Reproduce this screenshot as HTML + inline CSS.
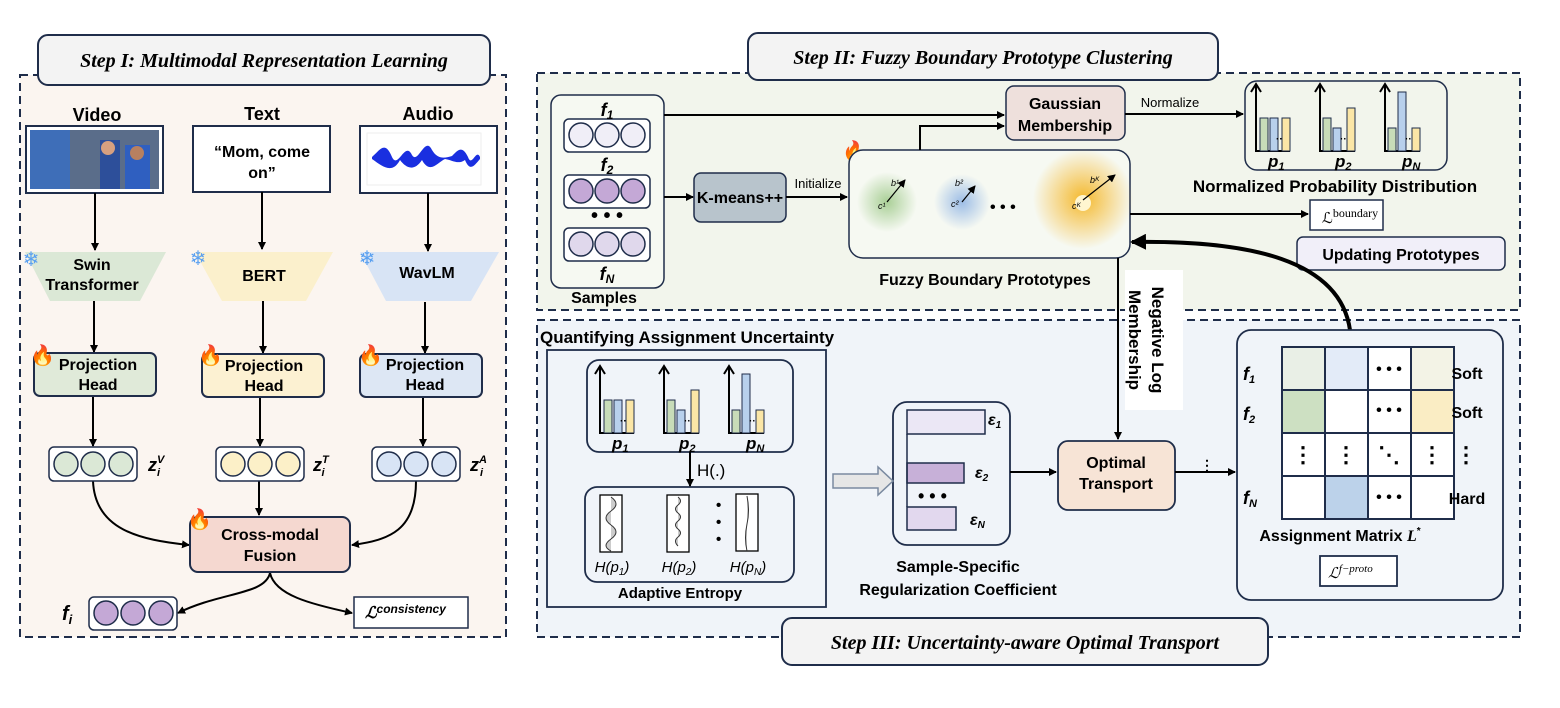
<!DOCTYPE html><html><head><meta charset="utf-8"><style>body{margin:0;background:#fff}svg{display:block}text{font-family:"Liberation Sans",sans-serif}.s{font-family:"Liberation Serif",serif}</style></head><body>
<svg width="1560" height="708" viewBox="0 0 1560 708" xmlns="http://www.w3.org/2000/svg">
<defs>
<marker id="a" markerWidth="8" markerHeight="8" refX="7" refY="4" orient="auto" markerUnits="userSpaceOnUse"><path d="M0,0L8,4L0,8z" fill="#000"/></marker>
<marker id="b" markerWidth="16" markerHeight="16" refX="14" refY="8" orient="auto" markerUnits="userSpaceOnUse"><path d="M0,0L16,8L0,16z" fill="#000"/></marker>
<radialGradient id="gG"><stop offset="0" stop-color="#a9cf96"/><stop offset="1" stop-color="#a9cf96" stop-opacity="0"/></radialGradient>
<radialGradient id="gB"><stop offset="0" stop-color="#9dbde6"/><stop offset="1" stop-color="#9dbde6" stop-opacity="0"/></radialGradient>
<radialGradient id="gY"><stop offset="0" stop-color="#f5b92e"/><stop offset="1" stop-color="#f5b92e" stop-opacity="0"/></radialGradient>
</defs>
<g stroke="#1f2d4a" stroke-width="2">
<rect x="20" y="75" width="486" height="562" fill="#fbf5f0" stroke-dasharray="8,5"/>
<rect x="537" y="73" width="983" height="237" fill="#f2f5ec" stroke-dasharray="8,5"/>
<rect x="537" y="320" width="983" height="317" fill="#f0f4f9" stroke-dasharray="8,5"/>
<rect x="38" y="35" width="452" height="50" rx="10" fill="#f3f3f3"/>
<rect x="748" y="33" width="470" height="47" rx="10" fill="#f3f3f3"/>
<rect x="782" y="618" width="486" height="47" rx="10" fill="#f3f3f3"/>
</g>
<g font-family="Liberation Serif" font-style="italic" font-weight="bold" font-size="20" text-anchor="middle">
<text x="264" y="67" class="s">Step I: Multimodal Representation Learning</text>
<text x="983" y="64" class="s">Step II: Fuzzy Boundary Prototype Clustering</text>
<text x="1025" y="649" class="s">Step III: Uncertainty-aware Optimal Transport</text>
</g>
<!-- Step I -->
<g font-weight="bold" font-size="18" text-anchor="middle"><text x="97" y="121">Video</text><text x="262" y="120">Text</text><text x="428" y="120">Audio</text></g>
<rect x="26" y="126" width="137" height="67" fill="#fff" stroke="#1f2d4a" stroke-width="2"/>
<rect x="30" y="130" width="129" height="59" fill="#5a6d8a"/><rect x="30" y="130" width="40" height="59" fill="#3e6eb8"/><rect x="100" y="140" width="20" height="49" fill="#2d4f9a"/><rect x="125" y="145" width="25" height="44" fill="#2f5fc0"/><circle cx="108" cy="148" r="7" fill="#d7a080"/><circle cx="137" cy="153" r="7" fill="#b88060"/>
<rect x="193" y="126" width="137" height="66" fill="#fff" stroke="#1f2d4a" stroke-width="2"/>
<text x="262" y="157" font-size="16" text-anchor="middle" font-weight="bold">“Mom, come</text><text x="262" y="178" font-size="16" text-anchor="middle" font-weight="bold">on”</text>
<rect x="360" y="126" width="137" height="67" fill="#fff" stroke="#1f2d4a" stroke-width="2"/>
<rect x="367" y="133" width="114" height="52" fill="#fff" stroke="#eee"/>
<path d="M372,157 C380,150 385,140 392,157 C398,170 405,140 412,155 C418,165 425,135 432,150 C438,160 445,158 452,156 C458,150 462,145 468,157 C472,168 476,148 480,157 L480,159 C474,166 470,172 465,160 C458,165 452,160 445,159 C438,162 430,175 422,160 C414,172 406,168 400,160 C392,175 382,166 372,159Z" fill="#1a2fe0"/>
<g stroke="#000" stroke-width="2" marker-end="url(#a)">
<line x1="95" y1="193" x2="95" y2="250"/><line x1="262" y1="192" x2="262" y2="249"/><line x1="428" y1="193" x2="428" y2="251"/>
<line x1="94" y1="300" x2="94" y2="352"/><line x1="263" y1="300" x2="263" y2="353"/><line x1="425" y1="302" x2="425" y2="353"/>
<line x1="93" y1="397" x2="93" y2="446"/><line x1="260" y1="397" x2="260" y2="446"/><line x1="423" y1="397" x2="423" y2="446"/>
<line x1="259" y1="481" x2="259" y2="515"/>
<path d="M93,481 C95,530 140,540 189,545" fill="none"/><path d="M416,481 C416,530 390,540 352,545" fill="none"/>
<path d="M270,573 C265,595 220,592 178,613" fill="none"/><path d="M270,573 C275,595 310,604 352,613" fill="none"/>
</g>
<path d="M25,252H166L140,301H50Z" fill="#dbe8d6"/><path d="M195,252H333L306,301H222Z" fill="#fbf0cc"/><path d="M360,252H499L471,301H386Z" fill="#d8e4f5"/>
<g font-size="16" text-anchor="middle" font-weight="bold"><text x="92" y="270">Swin</text><text x="92" y="290">Transformer</text><text x="264" y="281">BERT</text><text x="427" y="278">WavLM</text></g>
<g font-size="20" fill="#5aa0f0" text-anchor="middle"><text x="31" y="266">❄</text><text x="198" y="265">❄</text><text x="367" y="265">❄</text></g>
<g stroke="#1f2d4a" stroke-width="2"><rect x="34" y="353" width="122" height="43" rx="6" fill="#e0ead9"/><rect x="202" y="354" width="122" height="43" rx="6" fill="#fcf1d2"/><rect x="360" y="354" width="122" height="43" rx="6" fill="#dde7f4"/>
<rect x="190" y="517" width="160" height="55" rx="8" fill="#f5d8d0"/></g>
<g font-size="16" text-anchor="middle" font-weight="bold"><text x="98" y="370">Projection</text><text x="98" y="390">Head</text><text x="264" y="371">Projection</text><text x="264" y="391">Head</text><text x="425" y="370">Projection</text><text x="425" y="390">Head</text><text x="270" y="540">Cross-modal</text><text x="270" y="561">Fusion</text></g>
<g font-size="20"><text x="30" y="362">🔥</text><text x="198" y="362">🔥</text><text x="358" y="362">🔥</text><text x="187" y="526">🔥</text><text x="842" y="158">🔥</text></g>
<g stroke="#1f2d4a" stroke-width="1.5">
<rect x="49" y="447" width="88" height="34" rx="5" fill="#fff"/><g fill="#dbe8d6"><circle cx="66" cy="464" r="12"/><circle cx="93" cy="464" r="12"/><circle cx="121" cy="464" r="12"/></g>
<rect x="216" y="447" width="88" height="34" rx="5" fill="#fff"/><g fill="#fcf0c8"><circle cx="233" cy="464" r="12"/><circle cx="260" cy="464" r="12"/><circle cx="288" cy="464" r="12"/></g>
<rect x="372" y="447" width="88" height="34" rx="5" fill="#fff"/><g fill="#d8e4f5"><circle cx="389" cy="464" r="12"/><circle cx="416" cy="464" r="12"/><circle cx="444" cy="464" r="12"/></g>
<rect x="89" y="597" width="88" height="33" rx="5" fill="#fff"/><g fill="#c4a8d6"><circle cx="106" cy="613" r="12"/><circle cx="133" cy="613" r="12"/><circle cx="161" cy="613" r="12"/></g>
<rect x="354" y="597" width="114" height="31" fill="#fff"/></g>
<g class="s" font-family="Liberation Serif" font-style="italic" font-weight="bold" font-size="18">
<text x="148" y="471">z<tspan font-size="11" dy="-8">V</tspan><tspan font-size="11" dx="-7" dy="13">i</tspan></text>
<text x="313" y="471">z<tspan font-size="11" dy="-8">T</tspan><tspan font-size="11" dx="-7" dy="13">i</tspan></text>
<text x="470" y="471">z<tspan font-size="11" dy="-8">A</tspan><tspan font-size="11" dx="-7" dy="13">i</tspan></text>
<text x="62" y="620" font-size="20">f<tspan font-size="13" dy="4">i</tspan></text>
<text x="365" y="618" font-size="16">ℒ<tspan font-size="12" dy="-5">consistency</tspan></text></g>
<!-- Step II -->
<rect x="551" y="95" width="113" height="193" rx="10" fill="#f6f9f2" stroke="#1f2d4a" stroke-width="1.5"/>
<g stroke="#1f2d4a" stroke-width="1.5">
<rect x="564" y="119" width="86" height="33" rx="5" fill="#fff"/><g fill="#f0eef7"><circle cx="581" cy="135" r="12"/><circle cx="607" cy="135" r="12"/><circle cx="633" cy="135" r="12"/></g>
<rect x="564" y="175" width="86" height="33" rx="5" fill="#fff"/><g fill="#c4a8d6"><circle cx="581" cy="191" r="12"/><circle cx="607" cy="191" r="12"/><circle cx="633" cy="191" r="12"/></g>
<rect x="564" y="228" width="86" height="33" rx="5" fill="#fff"/><g fill="#e0d8ec"><circle cx="581" cy="244" r="12"/><circle cx="607" cy="244" r="12"/><circle cx="633" cy="244" r="12"/></g>
<rect x="694" y="173" width="92" height="49" rx="7" fill="#b8c4cc"/>
<rect x="849" y="150" width="281" height="108" rx="14" fill="#f6f9f2"/>
<rect x="1006" y="86" width="119" height="54" rx="8" fill="#eee0dc"/>
<rect x="1245" y="81" width="202" height="89" rx="12" fill="#f2f5ec"/>
<rect x="1310" y="200" width="73" height="30" fill="#fff"/>
<rect x="1297" y="237" width="208" height="33" rx="6" fill="#f1eff9"/>
</g>
<g class="s" font-family="Liberation Serif" font-style="italic" font-weight="bold" font-size="18" text-anchor="middle"><text x="607" y="116">f<tspan font-size="12" dy="3">1</tspan></text><text x="607" y="171">f<tspan font-size="12" dy="3">2</tspan></text><text x="607" y="280">f<tspan font-size="12" dy="3">N</tspan></text></g>
<text x="607" y="222" font-size="20" text-anchor="middle" font-weight="bold">• • •</text>
<g font-size="16" text-anchor="middle" font-weight="bold"><text x="604" y="303">Samples</text><text x="740" y="203">K-means++</text><text x="1065" y="109">Gaussian</text><text x="1065" y="131">Membership</text><text x="985" y="285">Fuzzy Boundary Prototypes</text><text x="1335" y="192" font-size="17">Normalized Probability Distribution</text><text x="1401" y="260">Updating Prototypes</text></g>
<text x="818" y="188" font-size="13" text-anchor="middle">Initialize</text><text x="1170" y="107" font-size="13" text-anchor="middle">Normalize</text>
<g stroke="#000" stroke-width="2" fill="none" marker-end="url(#a)">
<line x1="664" y1="115" x2="1004" y2="115"/><line x1="664" y1="197" x2="693" y2="197"/><line x1="786" y1="197" x2="847" y2="197"/>
<path d="M920,150V126H1004"/><line x1="1125" y1="114" x2="1243" y2="114"/><line x1="1130" y1="214" x2="1308" y2="214"/>
<line x1="1118" y1="258" x2="1118" y2="439"/>
</g>
<path d="M1350,330 C1340,260 1250,240 1132,242" stroke="#000" stroke-width="4" fill="none" marker-end="url(#b)"/>
<circle cx="887" cy="202" r="30" fill="url(#gG)"/><circle cx="962" cy="202" r="28" fill="url(#gB)"/><circle cx="1083" cy="199" r="50" fill="url(#gY)"/>
<circle cx="1083" cy="203" r="8" fill="#fff6d0"/>
<g font-size="16" font-weight="bold"><text x="990" y="212">• • •</text></g>
<g stroke="#000" stroke-width="1.2" marker-end="url(#a)"><line x1="887" y1="202" x2="905" y2="180"/><line x1="962" y1="202" x2="975" y2="186"/><line x1="1083" y1="200" x2="1115" y2="175"/></g>
<g class="s" font-family="Liberation Serif" font-style="italic" font-size="9"><text x="878" y="209">c¹</text><text x="951" y="207">c²</text><text x="1072" y="209">cᴷ</text><text x="891" y="186">b¹</text><text x="955" y="186">b²</text><text x="1090" y="183">bᴷ</text></g>
<text x="1322" y="223" class="s" font-family="Liberation Serif" font-size="15">ℒ<tspan font-size="12" dy="-6">boundary</tspan></text>
<!-- prob dist top -->
<g id="pd">
<g stroke="#000" stroke-width="2" fill="none"><path d="M1256,151V86M1251,92L1256,84L1261,92"/><path d="M1255,151H1290"/><path d="M1320,151V86M1315,92L1320,84L1325,92"/><path d="M1319,151H1355"/><path d="M1385,151V86M1380,92L1385,84L1390,92"/><path d="M1384,151H1420"/></g>
<g stroke="#1f2d4a" stroke-width="1"><rect x="1260" y="118" width="8" height="33" fill="#c8dcb8"/><rect x="1270" y="118" width="8" height="33" fill="#b8d0ec"/><rect x="1282" y="118" width="8" height="33" fill="#fbe6a6"/>
<rect x="1323" y="118" width="8" height="33" fill="#c8dcb8"/><rect x="1333" y="128" width="8" height="23" fill="#b8d0ec"/><rect x="1347" y="108" width="8" height="43" fill="#fbe6a6"/>
<rect x="1388" y="128" width="8" height="23" fill="#c8dcb8"/><rect x="1398" y="92" width="8" height="59" fill="#b8d0ec"/><rect x="1412" y="128" width="8" height="23" fill="#fbe6a6"/></g>
<g font-size="10" font-weight="bold"><text x="1276" y="142">··</text><text x="1340" y="142">··</text><text x="1405" y="142">··</text></g>
<g class="s" font-family="Liberation Serif" font-style="italic" font-weight="bold" font-size="17"><text x="1268" y="167">p<tspan font-size="11" dy="3">1</tspan></text><text x="1335" y="167">p<tspan font-size="11" dy="3">2</tspan></text><text x="1402" y="167">p<tspan font-size="11" dy="3">N</tspan></text></g>
</g>
<rect x="1125" y="270" width="58" height="140" fill="#fff"/>
<text transform="translate(1152,340) rotate(90)" font-size="17" font-weight="bold" text-anchor="middle">Negative Log</text>
<text transform="translate(1129,340) rotate(90)" font-size="17" font-weight="bold" text-anchor="middle">Membership</text>
<!-- Step III -->
<text x="540" y="343" font-size="17" font-weight="bold">Quantifying Assignment Uncertainty</text>
<g stroke="#1f2d4a" stroke-width="1.8">
<rect x="547" y="350" width="279" height="257" fill="#f0f4f9"/>
<rect x="587" y="360" width="206" height="92" rx="12" fill="#f0f4f9"/>
<rect x="585" y="487" width="209" height="95" rx="12" fill="#f0f4f9"/>
<rect x="893" y="402" width="117" height="143" rx="14" fill="#f0f4f9"/>
<rect x="1058" y="441" width="117" height="69" rx="10" fill="#f7e4d6"/>
<rect x="1237" y="330" width="266" height="270" rx="14" fill="#f0f4f9"/>
<rect x="1320" y="556" width="77" height="30" fill="#fff"/>
</g>
<use href="#pd" transform="translate(-656,282)"/>
<g stroke="#000" stroke-width="2" fill="none" marker-end="url(#a)"><line x1="690" y1="452" x2="690" y2="486"/><line x1="1010" y1="472" x2="1056" y2="472"/><line x1="1175" y1="472" x2="1235" y2="472"/></g>
<text x="697" y="476" font-size="17">H(.)</text>
<path d="M833,474H878V467L893,481L878,495V488H833Z" fill="#e6e6e6" stroke="#7a8aa0" stroke-width="1.5"/>
<g stroke="#000" stroke-width="1.3" fill="#fff"><rect x="600" y="495" width="22" height="57"/><rect x="667" y="495" width="22" height="57"/><rect x="736" y="494" width="22" height="57"/></g>
<g stroke="#333" fill="#ccc" stroke-width="1"><path d="M611,497 q10,7 0,14 q-10,7 0,14 q10,7 0,14 q-10,7 0,12"/><path d="M678,497 q5,4 0,8 q-5,4 0,8 q5,4 0,8 q-5,4 0,8 q5,4 0,8 q-5,4 0,9"/><path d="M747,496 q3,15 0,28 q-3,14 0,27"/></g>
<g font-size="15" font-weight="bold"><text x="716" y="510">•</text><text x="716" y="527">•</text><text x="716" y="544">•</text></g>
<g class="s" font-family="Liberation Serif" font-style="italic" font-size="15" text-anchor="middle"><text x="612" y="572">H(p<tspan font-size="10" dy="3">1</tspan><tspan dy="-3">)</tspan></text><text x="679" y="572">H(p<tspan font-size="10" dy="3">2</tspan><tspan dy="-3">)</tspan></text><text x="748" y="572">H(p<tspan font-size="10" dy="3">N</tspan><tspan dy="-3">)</tspan></text></g>
<g font-size="16" text-anchor="middle" font-weight="bold"><text x="680" y="598" font-size="15">Adaptive Entropy</text><text x="958" y="572">Sample-Specific</text><text x="958" y="595">Regularization Coefficient</text><text x="1116" y="468">Optimal</text><text x="1116" y="489">Transport</text><text x="1340" y="541">Assignment Matrix <tspan class="s" font-family="Liberation Serif" font-style="italic">L</tspan><tspan font-size="10" dy="-7">*</tspan></text></g>
<g stroke="#1f2d4a" stroke-width="1.5"><rect x="907" y="410" width="78" height="24" fill="#ebe7f5"/><rect x="907" y="463" width="57" height="20" fill="#c7b0d8"/><rect x="907" y="507" width="49" height="23" fill="#e2d8ee"/><path d="M907,434V507" fill="none"/></g>
<g class="s" font-family="Liberation Serif" font-style="italic" font-weight="bold" font-size="16"><text x="988" y="425">ε<tspan font-size="10" dy="3">1</tspan></text><text x="975" y="478">ε<tspan font-size="10" dy="3">2</tspan></text><text x="970" y="525">ε<tspan font-size="10" dy="3">N</tspan></text></g>
<text x="918" y="502" font-size="18" font-weight="bold">• • •</text>
<text x="1200" y="470" font-size="14" font-weight="bold">⋮</text>
<g stroke="#1f2d4a" stroke-width="2">
<rect x="1282" y="347" width="43" height="43" fill="#e9efe6"/><rect x="1325" y="347" width="43" height="43" fill="#e3ebf8"/><rect x="1368" y="347" width="43" height="43" fill="#fff"/><rect x="1411" y="347" width="43" height="43" fill="#f3f3e6"/>
<rect x="1282" y="390" width="43" height="43" fill="#cde0c2"/><rect x="1325" y="390" width="43" height="43" fill="#fff"/><rect x="1368" y="390" width="43" height="43" fill="#fff"/><rect x="1411" y="390" width="43" height="43" fill="#faedc4"/>
<rect x="1282" y="433" width="43" height="43" fill="#fff"/><rect x="1325" y="433" width="43" height="43" fill="#fff"/><rect x="1368" y="433" width="43" height="43" fill="#fff"/><rect x="1411" y="433" width="43" height="43" fill="#fff"/>
<rect x="1282" y="476" width="43" height="43" fill="#fff"/><rect x="1325" y="476" width="43" height="43" fill="#bcd2ea"/><rect x="1368" y="476" width="43" height="43" fill="#fff"/><rect x="1411" y="476" width="43" height="43" fill="#fff"/>
</g>
<g font-size="16" font-weight="bold" text-anchor="middle"><text x="1389" y="374">• • •</text><text x="1389" y="415">• • •</text><text x="1389" y="502">• • •</text><text x="1303" y="462" font-size="22">⋮</text><text x="1346" y="462" font-size="22">⋮</text><text x="1389" y="462" font-size="22">⋱</text><text x="1432" y="462" font-size="22">⋮</text><text x="1466" y="462" font-size="22">⋮</text>
<text x="1467" y="379">Soft</text><text x="1467" y="418">Soft</text><text x="1467" y="504">Hard</text></g>
<g class="s" font-family="Liberation Serif" font-style="italic" font-weight="bold" font-size="18"><text x="1243" y="380">f<tspan font-size="11" dy="3">1</tspan></text><text x="1243" y="420">f<tspan font-size="11" dy="3">2</tspan></text><text x="1243" y="504">f<tspan font-size="11" dy="3">N</tspan></text></g>
<text x="1328" y="578" class="s" font-family="Liberation Serif" font-style="italic" font-size="15">ℒ<tspan font-size="11" dy="-6">f−proto</tspan></text>
</svg>
</body></html>
